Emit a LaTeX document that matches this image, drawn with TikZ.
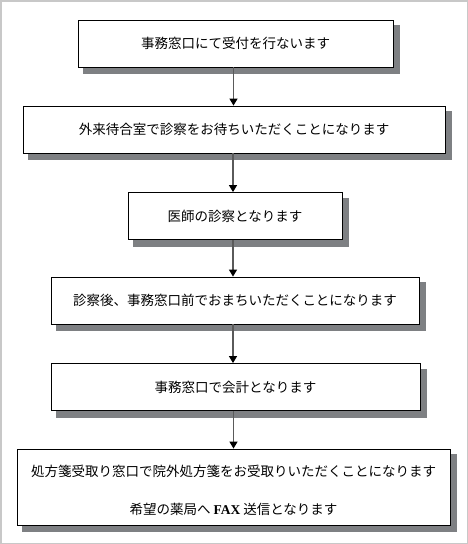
\documentclass[tikz,border=0pt]{standalone}
\usepackage{fontspec}
\usepackage{tikz}
\usetikzlibrary{positioning,arrows.meta,backgrounds}
\newfontfamily\jpfont{Noto Sans CJK JP}
\newfontfamily\latfont{Liberation Serif}
\definecolor{lineclr}{RGB}{90,90,90}
\definecolor{frameclr}{RGB}{200,200,200}
\definecolor{shadowclr}{RGB}{126,128,131}
\tikzset{
  stepbox/.style={rectangle,draw=black,thick,fill=white,inner sep=0pt,
                  minimum height=47pt,
                  font=\jpfont\fontsize{13.5pt}{16pt}\selectfont},
  boxshade/.style={fill=shadowclr,draw=shadowclr,line width=0.4pt},
  flow/.style={draw=lineclr,line width=1.3pt,
               -{Triangle[length=7pt,width=8pt,color=black]}},
}

\begin{document}
\begin{tikzpicture}[x=1pt,y=-1pt]
\draw[frameclr,line width=1.5pt] (0.75,0.75) rectangle (467.25,543.25);
\useasboundingbox (0,0) rectangle (468,544);

\node[stepbox, minimum width=315pt] (desk) at (235.5,43.5)
      {事務窓口にて受付を行ないます};
\node[stepbox, minimum width=422pt] (wait) at (234,129.5)
      {外来待合室で診察をお待ちいただくことになります};
\node[stepbox, minimum width=214pt] (exam) at (235,216)
      {医師の診察となります};
\node[stepbox, minimum width=368pt] (after) at (235,300.5)
      {診察後、事務窓口前でおまちいただくことになります};
\node[stepbox, minimum width=369pt] (pay) at (235.5,387)
      {事務窓口で会計となります};
\node[stepbox, minimum width=433pt, minimum height=76pt] (rx) at (233.5,487) {};
\node[font=\jpfont\fontsize{13.5pt}{16pt}\selectfont] (rxa) at (233.5,471)
      {処方箋受取り窓口で院外処方箋をお受取りいただくことになります};
\node[font=\jpfont\fontsize{13.5pt}{16pt}\selectfont] (rxb) at (233.5,509)
      {希望の薬局へ {\latfont\bfseries FAX} 送信となります};

% shadows
\begin{scope}[on background layer]
\foreach \n in {desk,wait,exam,after,pay,rx}
  \filldraw[boxshade] ([xshift=6pt,yshift=-6pt]\n.south west)
                  rectangle ([xshift=6pt,yshift=-6pt]\n.north east);
\end{scope}

\draw[flow] ([xshift=-2pt]desk.south) -- ([xshift=-2pt]desk.south |- wait.north);
\draw[flow] ([xshift=-1pt]wait.south) -- ([xshift=-1pt]wait.south |- exam.north);
\draw[flow] ([xshift=-2pt]exam.south) -- ([xshift=-2pt]exam.south |- after.north);
\draw[flow] ([xshift=-2pt]after.south) -- ([xshift=-2pt]after.south |- pay.north);
\draw[flow] ([xshift=-2pt]pay.south) -- ([xshift=-2pt]pay.south |- rx.north);
\end{tikzpicture}
\end{document}
